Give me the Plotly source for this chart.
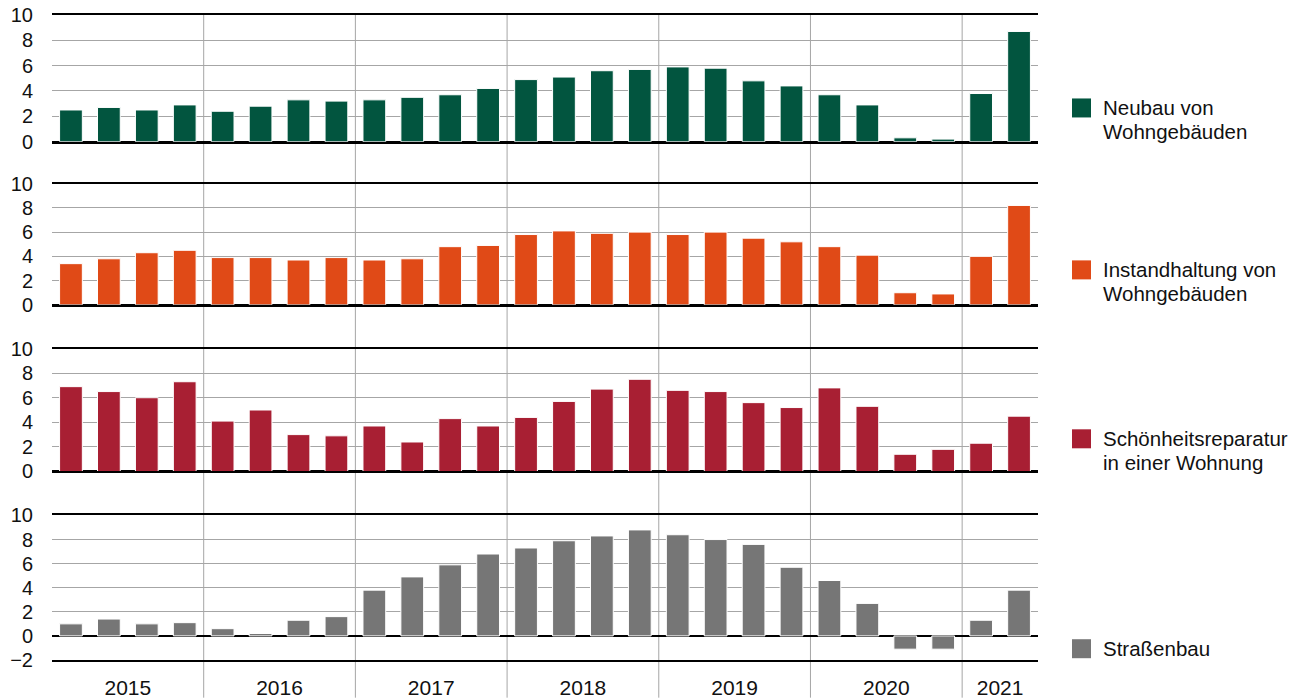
import plotly.graph_objects as go
from plotly.subplots import make_subplots

# Quartalsdaten 2015 Q1 - 2021 Q2
years = ["2015", "2016", "2017", "2018", "2019", "2020", "2021"]
quarters_per_year = [4, 4, 4, 4, 4, 4, 2]

neubau = [2.5, 2.7, 2.5, 2.9, 2.4, 2.8, 3.3, 3.2, 3.3, 3.5, 3.7, 4.2, 4.9,
          5.1, 5.6, 5.7, 5.9, 5.8, 4.8, 4.4, 3.7, 2.9, 0.3, 0.2, 3.8, 8.7]
instandhaltung = [3.4, 3.8, 4.3, 4.5, 3.9, 3.9, 3.7, 3.9, 3.7, 3.8, 4.8, 4.9, 5.8,
                  6.1, 5.9, 6.0, 5.8, 6.0, 5.5, 5.2, 4.8, 4.1, 1.0, 0.9, 4.0, 8.2]
schoenheit = [6.9, 6.5, 6.0, 7.3, 4.1, 5.0, 3.0, 2.9, 3.7, 2.4, 4.3, 3.7, 4.4,
              5.7, 6.7, 7.5, 6.6, 6.5, 5.6, 5.2, 6.8, 5.3, 1.4, 1.8, 2.3, 4.5]
strassenbau = [1.0, 1.4, 1.0, 1.1, 0.6, 0.2, 1.3, 1.6, 3.8, 4.9, 5.9, 6.8, 7.3,
               7.9, 8.3, 8.8, 8.4, 8.0, 7.6, 5.7, 4.6, 2.7, -1.1, -1.1, 1.3, 3.8]

names = [["Neubau von", "Wohngebäuden"],
         ["Instandhaltung von", "Wohngebäuden"],
         ["Schönheitsreparatur", "in einer Wohnung"],
         ["Straßenbau"]]
colors = ["#02553f", "#e04a17", "#a81f33", "#767676"]
series = [neubau, instandhaltung, schoenheit, strassenbau]

quarters = list(range(sum(quarters_per_year)))

# Geometrie in Bildschirm-Pixeln (Seite hat 8px Rand)
OFF = 8
W, H = 1296, 698
left, right_px, top, bottom_px = 52, 1038, 15, 660.3
plot_w = right_px - left
plot_h = bottom_px - top


def px_x(p):
    return (p - left) / plot_w


def px_y(p):
    return (bottom_px - p) / plot_h


domains = [
    [px_y(141.7), 1.0],
    [px_y(305.0), px_y(183.7)],
    [px_y(471.7), px_y(348.7)],
    [0.0, px_y(515.7)],
]
ranges = [[0, 10], [0, 10], [0, 10], [-2, 10]]

fig = make_subplots(rows=4, cols=1, shared_xaxes=True)

for i, (name, vals, color) in enumerate(zip(names, series, colors)):
    fig.add_trace(go.Bar(
        x=quarters,
        y=vals,
        name=" ".join(name),
        marker=dict(color=color, line=dict(color="white", width=1)),
        showlegend=False,
    ), row=i + 1, col=1)

font = "Arial, Liberation Sans, sans-serif"

for i in range(4):
    fig.update_yaxes(
        domain=domains[i],
        range=ranges[i],
        dtick=2,
        showgrid=True,
        gridcolor="#a6a6a6",
        gridwidth=1,
        zeroline=True,
        zerolinecolor="black",
        zerolinewidth=1.5,
        showline=False,
        ticks="outside",
        ticklen=14,
        tickcolor="rgba(0,0,0,0)",
        tickfont=dict(family=font, size=20, color="#111111"),
        ticklabeloverflow="allow",
        automargin=False,
        row=i + 1, col=1,
    )

# Jahresbeschriftungen in der Mitte der Quartale
centers = []
boundaries = []
start = 0
for n in quarters_per_year:
    centers.append(start + (n - 1) / 2)
    start += n
    boundaries.append(start - 0.5)

fig.update_xaxes(
    range=[-0.5, len(quarters) - 0.5],
    showgrid=False,
    zeroline=False,
    showline=True,
    linecolor="black",
    linewidth=1.5,
    mirror=True,
    automargin=False,
)
fig.update_xaxes(
    tickmode="array",
    tickvals=centers,
    ticktext=years,
    ticks="outside",
    ticklen=8,
    tickcolor="rgba(0,0,0,0)",
    tickfont=dict(family=font, size=21, color="#111111"),
    ticklabeloverflow="allow",
    row=4, col=1,
)

shapes = []
# vertikale Trennlinien zwischen den Jahren
for b in boundaries[:-1]:
    shapes.append(dict(type="line", xref="x", yref="paper",
                       x0=b, x1=b, y0=px_y(H), y1=1.0,
                       line=dict(color="#a6a6a6", width=1), layer="below"))

# Legende als Quadrate + Text
legend_centers = [108, 270, 439, 649]
annotations = []
for lines, color, cy in zip(names, colors, legend_centers):
    shapes.append(dict(type="rect", xref="paper", yref="paper",
                       x0=px_x(1072), x1=px_x(1091),
                       y0=px_y(cy + 9.5), y1=px_y(cy - 9.5),
                       fillcolor=color, line=dict(width=0)))
    for k, line in enumerate(lines):
        annotations.append(dict(
            text=line, xref="paper", yref="paper",
            x=px_x(1101), y=px_y(cy + 24 * k),
            xanchor="left", yanchor="middle", align="left",
            showarrow=False,
            font=dict(family=font, size=20.5, color="#111111"),
        ))

fig.update_layout(
    width=W,
    height=H,
    margin=dict(l=left - OFF, r=W - right_px + OFF, t=top - OFF,
                b=H - bottom_px + OFF),
    bargap=0.4,
    paper_bgcolor="white",
    plot_bgcolor="rgba(0,0,0,0)",
    shapes=shapes,
    annotations=annotations,
    font=dict(family=font),
)

fig.write_html("out.html")
